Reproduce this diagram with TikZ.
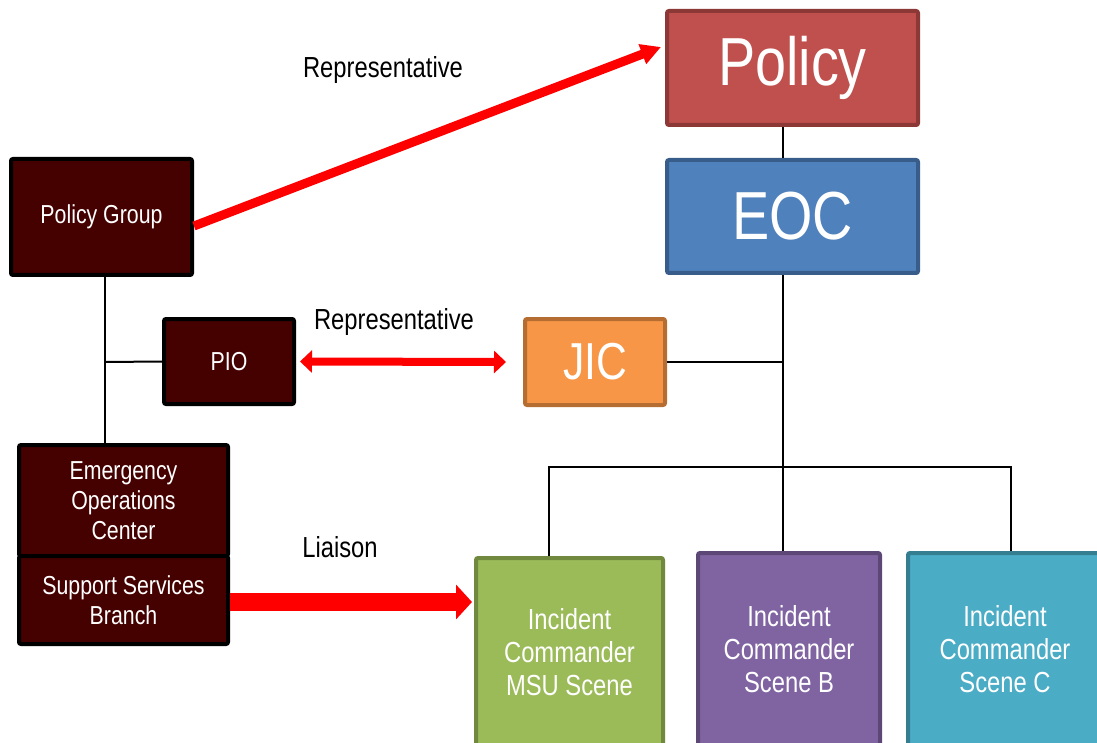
\documentclass[tikz,border=0pt]{standalone}
\usepackage{fontspec}
\setmainfont{Liberation Sans}[FakeStretch=0.82]
\usepackage{tikz}
\usetikzlibrary{arrows.meta}

\definecolor{darkfill}{RGB}{69,0,0}
\definecolor{policyfill}{RGB}{192,80,77}
\definecolor{policyline}{RGB}{140,56,54}
\definecolor{eocfill}{RGB}{79,129,189}
\definecolor{eocline}{RGB}{56,93,138}
\definecolor{jicfill}{RGB}{247,150,70}
\definecolor{jicline}{RGB}{182,109,49}
\definecolor{msufill}{RGB}{155,187,89}
\definecolor{msuline}{RGB}{113,137,63}
\definecolor{bfill}{RGB}{128,100,162}
\definecolor{bline}{RGB}{92,71,118}
\definecolor{cfill}{RGB}{75,172,198}
\definecolor{cline}{RGB}{53,125,145}
\definecolor{linkred}{RGB}{255,0,0}

\begin{document}
\begin{tikzpicture}[x=1pt, y=-1pt, inner sep=0pt,
  darkbox/.style={draw=black, line width=4pt, fill=darkfill, text=white, rounded corners=2pt, align=center, font=\fontsize{26}{30}\selectfont},
  colbox/.style={line width=4pt, text=white, rounded corners=2pt, align=center},
  scenebox/.style={colbox, overlay, font=\fontsize{29}{33}\selectfont},
  conn/.style={draw=black, line width=2pt},
  redlink/.style={draw=linkred, fill=linkred},
  lbl/.style={font=\fontsize{29}{33}\selectfont}]
\useasboundingbox (0,0) rectangle (1097,743);
\clip (0,0) rectangle (1097,743);
% right column:
\node (policy) at (792.5,68) [colbox, draw=policyline, fill=policyfill, minimum width=251, minimum height=114, font=\fontsize{68}{72}\selectfont] {Policy};
\node (eoc) at (792.5,216.5) [colbox, draw=eocline, fill=eocfill, minimum width=251, minimum height=113, font=\fontsize{68}{72}\selectfont] {EOC};
\node (jic) at (595,362) [colbox, draw=jicline, fill=jicfill, minimum width=140, minimum height=86, font=\fontsize{52}{56}\selectfont] {JIC};
% scenes:
\node (msu) at (569.5,652) [scenebox, draw=msuline, fill=msufill, minimum width=187, minimum height=188] {Incident\\Commander\\MSU Scene};
\node (sceneb) at (789,649) [scenebox, draw=bline, fill=bfill, minimum width=182, minimum height=192] {Incident\\Commander\\Scene B};
\node (scenec) at (1005,649) [scenebox, draw=cline, fill=cfill, minimum width=194, minimum height=192] {Incident\\Commander\\Scene C};
% left column:
\node (pgroup) at (101.5,217) [darkbox, minimum width=181, minimum height=116] {Policy Group};
\node (pio) at (229,361.5) [darkbox, minimum width=130, minimum height=85] {PIO};
\node (emerg) at (123.5,500.5) [darkbox, minimum width=209, minimum height=111] {Emergency\\Operations\\Center};
\node (ssb) at (123.5,600) [darkbox, minimum width=209, minimum height=88] {Support Services\\Branch};
% labels:
\node (repA) at (383,70) [lbl] {Representative};
\node (repB) at (394,322) [lbl] {Representative};
\node (liaison) at (340,547) [lbl] {Liaison};
% tree lines:
\coordinate (trunk) at (783,467);
\coordinate (busL) at (549,467);
\coordinate (busR) at (1011,467);
\coordinate (spine) at (105,362);
\draw[conn] (policy.south -| trunk) -- (eoc.north -| trunk);
\draw[conn] (eoc.south -| trunk) -- (sceneb.north -| trunk);
\draw[conn] (jic.east) -- (jic.east -| trunk);
\draw[conn] (busL |- msu.north) -- (busL) -- (busR) -- (busR |- scenec.north);
\draw[conn] (pgroup.south -| spine) -- (emerg.north -| spine);
\draw[conn] (spine) -- (pio.west);
% red links:
\draw[redlink, line width=9pt, -{Triangle[length=20pt,width=20pt]}] ([yshift=-9pt]pgroup.east) -- ([xshift=-4pt,yshift=21pt]policy.west);
\draw[redlink, line width=8pt, {Triangle[length=12pt,width=22pt]}-{Triangle[length=12pt,width=22pt]}] ([xshift=4pt]pio.east) -- ([xshift=-17pt]jic.west);
\draw[redlink, line width=18pt, -{Triangle[length=16pt,width=34pt]}] ([yshift=-2pt]ssb.east) -- ([yshift=-2pt,xshift=-2pt]ssb.east -| msu.west);
\end{tikzpicture}
\end{document}
